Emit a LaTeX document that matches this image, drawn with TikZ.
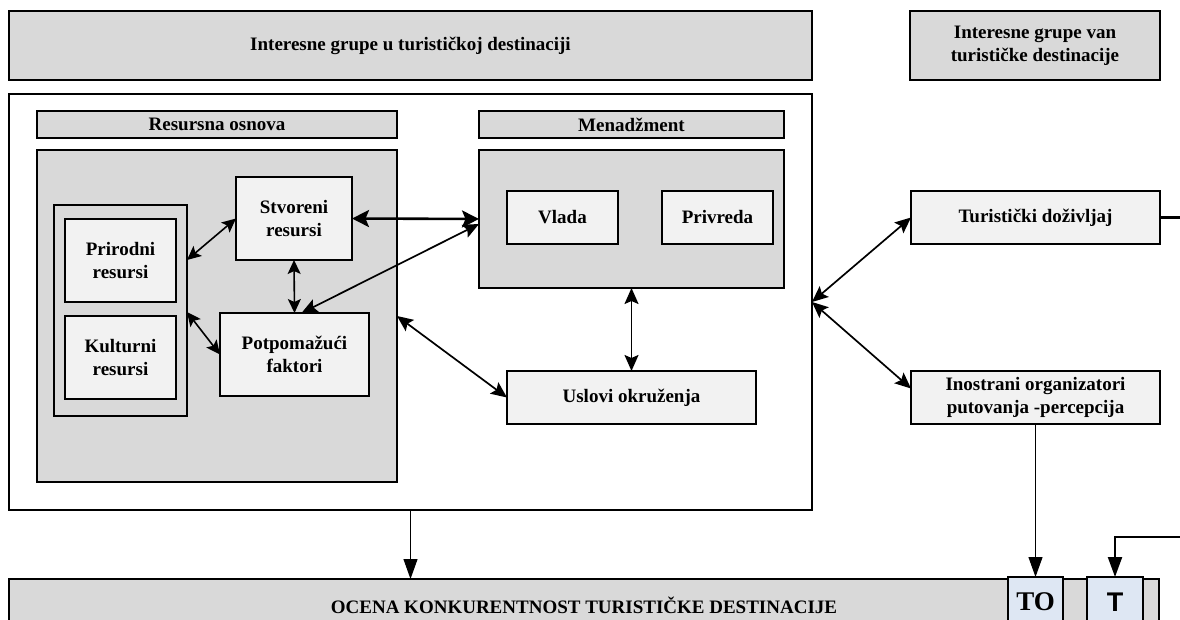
\documentclass[tikz,border=0pt]{standalone}
\usepackage{fontspec}
\setmainfont{Liberation Serif}
\newfontfamily\arialfont{Liberation Sans}
\usetikzlibrary{arrows.meta,calc}
\definecolor{grayA}{HTML}{D9D9D9}
\definecolor{grayB}{HTML}{F2F2F2}
\definecolor{blueT}{HTML}{DEE7F3}
\begin{document}
\begin{tikzpicture}[x=1pt,y=-1pt,
  every node/.style={inner sep=0pt, outer sep=0pt, align=center,
    font=\fontsize{19}{23}\selectfont\bfseries},
  band/.style={anchor=north west, draw=black, line width=2.2pt, fill=grayA},
  frame/.style={anchor=north west, draw=black, line width=2.2pt, fill=white},
  item/.style={anchor=north west, draw=black, line width=1.4pt, fill=grayB},
  tag/.style={anchor=north west, draw=black, line width=2.2pt, fill=blueT},
  biarrow/.style={{Stealth[length=16pt,width=14pt,inset=3pt]}-{Stealth[length=16pt,width=14pt,inset=3pt]}, line width=1.7pt},
  smallbi/.style={{Stealth[length=14pt,width=13pt,inset=3pt]}-{Stealth[length=14pt,width=13pt,inset=3pt]}, line width=1.6pt},
  heavybi/.style={{Stealth[length=17pt,width=17pt,inset=3.5pt]}-{Stealth[length=17pt,width=17pt,inset=3.5pt]}, line width=2.6pt},
  feed/.style={-{Triangle[length=20pt,width=14pt]}, line width=1.1pt},
  feedthick/.style={-{Triangle[length=20pt,width=14pt]}, line width=2.2pt}
]
\useasboundingbox (0,0) rectangle (1180,620);

% stakeholder bands
\node[band, minimum width=803pt, minimum height=69pt] (top) at (9,11)
  {Interesne grupe u turističkoj destinaciji};
\node[band, minimum width=250pt, minimum height=69pt] (topR) at (910,11)
  {Interesne grupe van\\turističke destinacije};

% destination frame
\node[frame, minimum width=803pt, minimum height=416pt] (outer) at (9,94) {};

% resource base
\node[band, minimum width=360pt, minimum height=27pt] (resH) at (37,111) {Resursna osnova};
\node[band, minimum width=360pt, minimum height=332pt] (resG) at (37,150) {};
\node[band, minimum width=133pt, minimum height=211pt] (container) at (54,205) {};
\node[item, minimum width=111pt, minimum height=83pt] (prirodni) at (65,219) {Prirodni\\resursi};
\node[item, minimum width=111pt, minimum height=83pt] (kulturni) at (65,316) {Kulturni\\resursi};
\node[item, minimum width=116pt, minimum height=83pt] (stvoreni) at (236,177) {Stvoreni\\resursi};
\node[item, minimum width=149pt, minimum height=83pt] (potpom) at (220,313) {Potpomažući\\faktori};

% management
\node[band, minimum width=305pt, minimum height=27pt] (menH) at (479,111) {Menadžment};
\node[band, minimum width=305pt, minimum height=138pt] (menG) at (479,150) {};
\node[item, minimum width=111pt, minimum height=53pt] (vlada) at (507,191) {Vlada};
\node[item, minimum width=111pt, minimum height=53pt] (privreda) at (662,191) {Privreda};
\node[item, minimum width=249pt, minimum height=53pt] (uslovi) at (507,371) {Uslovi okruženja};

% external side
\node[item, minimum width=249pt, minimum height=53pt] (turist) at (911,191) {Turistički doživljaj};
\node[item, minimum width=249pt, minimum height=53pt] (inostr) at (911,371) {Inostrani organizatori\\putovanja -percepcija};

% assessment bar
\node[band, minimum width=1150pt, minimum height=52pt] (bar) at (9,579)
  {OCENA KONKURENTNOST TURISTIČKE DESTINACIJE};
\node[tag, minimum width=55pt, minimum height=50pt] (TO) at (1008,577)
  {\fontsize{27}{30}\selectfont TO};
\node[tag, minimum width=56pt, minimum height=50pt] (T) at (1087,577)
  {\arialfont\fontsize{27}{30}\selectfont T};

% links inside the resource base
\draw[smallbi] ([yshift=50.5pt]container.east) -- (stvoreni.west);
\draw[smallbi] ([yshift=-1.5pt]container.east) -- (potpom.west);
\draw[smallbi] (stvoreni.south) -- (potpom.north);

% links to management and environment
\draw[heavybi] (stvoreni.east) -- (menG.west);
\draw[biarrow] ([xshift=7pt]potpom.north) -- ([yshift=-5pt]menG.west);
\draw[biarrow] (resG.east) -- (uslovi.west);
\draw[biarrow] (menG.south) -- (uslovi.north);

% links to the outside
\draw[biarrow] (outer.east) -- (turist.west);
\draw[biarrow] (outer.east) -- ([yshift=9pt]inostr.west);

% feeds into the assessment
\draw[feed] (outer.south) -- (outer.south |- bar.north);
\draw[feed] (inostr.south) -- (TO.north);
\coordinate (loop) at (1195,537);
\draw[feedthick] (turist.east) -| (loop) -| (T.north);
\end{tikzpicture}
\end{document}
